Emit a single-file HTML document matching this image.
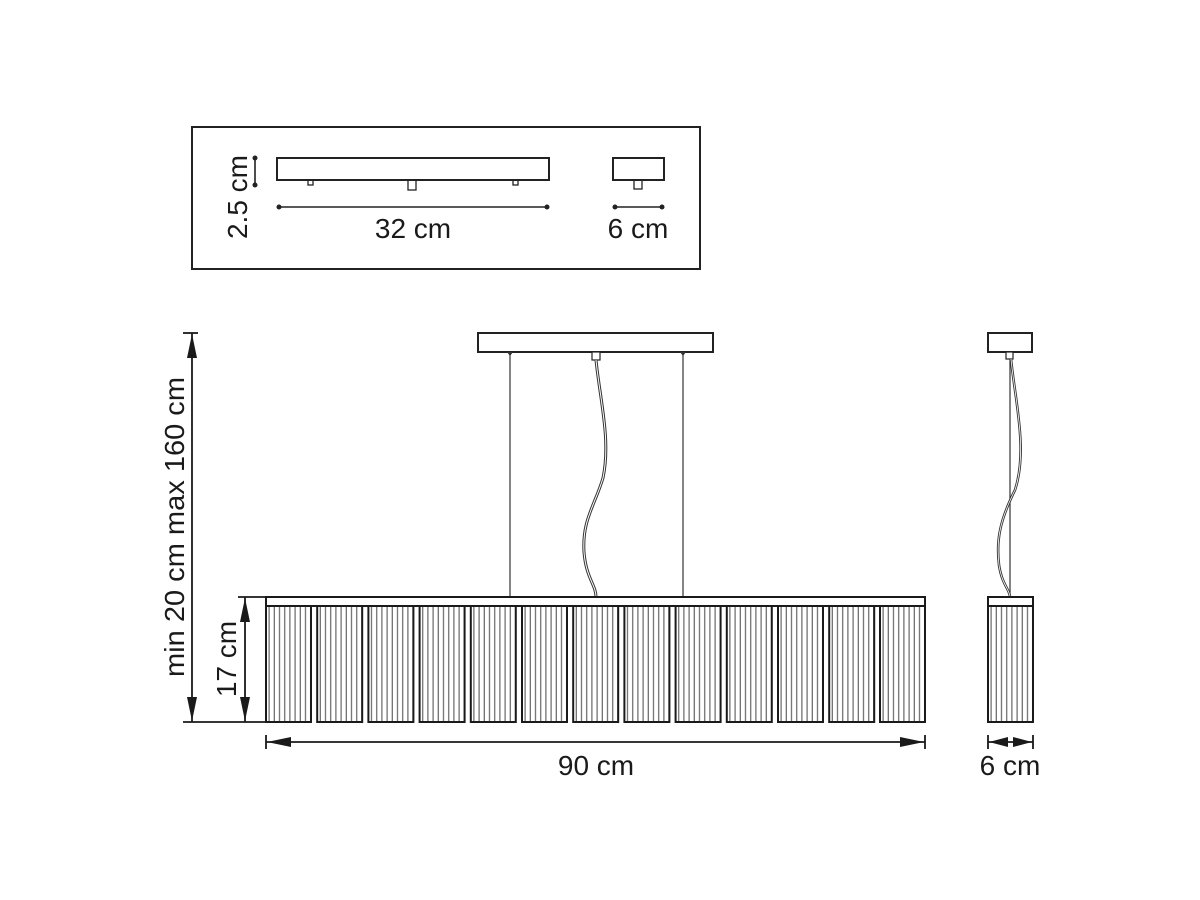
<!DOCTYPE html>
<html><head><meta charset="utf-8"><style>
html,body{margin:0;padding:0;background:#fff;}
svg{display:block;}
text{font-family:"Liberation Sans",sans-serif;fill:#1a1a1a;}
</style></head><body>
<svg width="1200" height="900" viewBox="0 0 1200 900" xmlns="http://www.w3.org/2000/svg">
<defs>
<pattern id="str" x="0" y="0" width="5.2" height="10" patternUnits="userSpaceOnUse">
<rect x="2.5" y="0" width="1.2" height="10" fill="#666"/>
</pattern>
<g id="pan">
<rect x="0" y="0" width="45" height="116" fill="url(#str)"/>
<rect x="0" y="0" width="45" height="116" fill="none" stroke="#1a1a1a" stroke-width="2"/>
</g>
</defs>

<!-- top box -->
<rect x="192" y="127" width="508" height="142" fill="none" stroke="#222" stroke-width="2"/>
<rect x="277" y="158" width="272" height="22" fill="none" stroke="#222" stroke-width="2"/>
<rect x="308" y="180" width="5" height="5" fill="none" stroke="#222" stroke-width="1.3"/>
<rect x="408" y="180" width="8" height="10" fill="none" stroke="#222" stroke-width="1.3"/>
<rect x="513" y="180" width="5" height="5" fill="none" stroke="#222" stroke-width="1.3"/>
<line x1="255" y1="158" x2="255" y2="185" stroke="#222" stroke-width="1.6"/>
<circle cx="255" cy="158" r="2.5" fill="#222"/><circle cx="255" cy="185" r="2.5" fill="#222"/>
<line x1="279" y1="207" x2="547" y2="207" stroke="#222" stroke-width="1.6"/>
<circle cx="279" cy="207" r="2.5" fill="#222"/><circle cx="547" cy="207" r="2.5" fill="#222"/>
<text x="413" y="238" font-size="28" text-anchor="middle">32 cm</text>
<text transform="translate(247,197) rotate(-90)" font-size="28" text-anchor="middle">2.5 cm</text>
<rect x="613" y="158" width="51" height="22" fill="none" stroke="#222" stroke-width="2"/>
<rect x="634" y="180" width="8" height="9" fill="none" stroke="#222" stroke-width="1.3"/>
<line x1="615" y1="207" x2="662" y2="207" stroke="#222" stroke-width="1.6"/>
<circle cx="615" cy="207" r="2.5" fill="#222"/><circle cx="662" cy="207" r="2.5" fill="#222"/>
<text x="638" y="238" font-size="28" text-anchor="middle">6 cm</text>

<!-- main canopy -->
<rect x="478" y="333" width="235" height="19" fill="none" stroke="#222" stroke-width="2"/>
<line x1="510" y1="352" x2="510" y2="597" stroke="#333" stroke-width="1.2"/>
<line x1="683" y1="352" x2="683" y2="597" stroke="#333" stroke-width="1.2"/>
<path d="M507 352 L513 352 L510 356 Z" fill="#333"/>
<path d="M680 352 L686 352 L683 356 Z" fill="#333"/>
<rect x="592" y="352" width="8" height="8" fill="#fff" stroke="#222" stroke-width="1.2"/>
<path d="M596 360 C600 400,611 440,603 478 C595 505,582 520,584 552 C586 578,596 585,596 597" fill="none" stroke="#333" stroke-width="3"/>
<path d="M596 360 C600 400,611 440,603 478 C595 505,582 520,584 552 C586 578,596 585,596 597" fill="none" stroke="#fff" stroke-width="1"/>

<!-- main shade -->
<rect x="266" y="597" width="659" height="9" fill="none" stroke="#1a1a1a" stroke-width="2"/>
<use href="#pan" x="266" y="606"/><use href="#pan" x="317.2" y="606"/><use href="#pan" x="368.4" y="606"/>
<use href="#pan" x="419.6" y="606"/><use href="#pan" x="470.8" y="606"/><use href="#pan" x="522" y="606"/>
<use href="#pan" x="573.2" y="606"/><use href="#pan" x="624.4" y="606"/><use href="#pan" x="675.6" y="606"/>
<use href="#pan" x="726.8" y="606"/><use href="#pan" x="778" y="606"/><use href="#pan" x="829.2" y="606"/>
<use href="#pan" x="880" y="606"/>

<!-- side view -->
<rect x="988" y="333" width="44" height="19" fill="none" stroke="#222" stroke-width="2"/>
<rect x="1006" y="352" width="7" height="7" fill="#fff" stroke="#222" stroke-width="1.2"/>
<line x1="1010" y1="359" x2="1010" y2="597" stroke="#333" stroke-width="1.2"/>
<path d="M1011 359 C1015 400,1028 450,1015 490 C1000 520,996 540,999 565 C1002 585,1010 590,1010 597" fill="none" stroke="#333" stroke-width="2.6"/>
<path d="M1011 359 C1015 400,1028 450,1015 490 C1000 520,996 540,999 565 C1002 585,1010 590,1010 597" fill="none" stroke="#fff" stroke-width="0.8"/>
<rect x="988" y="597" width="45" height="9" fill="none" stroke="#1a1a1a" stroke-width="2"/>
<use href="#pan" x="988" y="606"/>

<!-- dimensions -->
<g stroke="#1a1a1a" stroke-width="1.8" fill="none">
<line x1="192" y1="333" x2="192" y2="722"/>
<line x1="183" y1="333" x2="198" y2="333"/>
<line x1="183" y1="722" x2="266" y2="722"/>
<line x1="245" y1="597" x2="245" y2="722"/>
<line x1="238" y1="597" x2="266" y2="597"/>
<line x1="266" y1="742" x2="925" y2="742"/>
<line x1="266" y1="735" x2="266" y2="749"/>
<line x1="925" y1="735" x2="925" y2="749"/>
<line x1="988" y1="742" x2="1033" y2="742"/>
<line x1="988" y1="735" x2="988" y2="749"/>
<line x1="1033" y1="735" x2="1033" y2="749"/>
</g>
<g fill="#1a1a1a">
<path d="M192 334 L187 358 L197 358 Z"/><path d="M192 721 L187 697 L197 697 Z"/>
<path d="M245 598 L240 622 L250 622 Z"/><path d="M245 721 L240 697 L250 697 Z"/>
<path d="M267 742 L291 737 L291 747 Z"/><path d="M924 742 L900 737 L900 747 Z"/>
<path d="M989 742 L1008 737 L1008 747 Z"/><path d="M1032 742 L1013 737 L1013 747 Z"/>
</g>
<text transform="translate(184,527) rotate(-90)" font-size="28" text-anchor="middle" textLength="300" lengthAdjust="spacingAndGlyphs">min 20 cm max 160 cm</text>
<text transform="translate(236,659) rotate(-90)" font-size="28" text-anchor="middle">17 cm</text>
<text x="596" y="775" font-size="28" text-anchor="middle">90 cm</text>
<text x="1010" y="775" font-size="28" text-anchor="middle">6 cm</text>
</svg>
</body></html>
